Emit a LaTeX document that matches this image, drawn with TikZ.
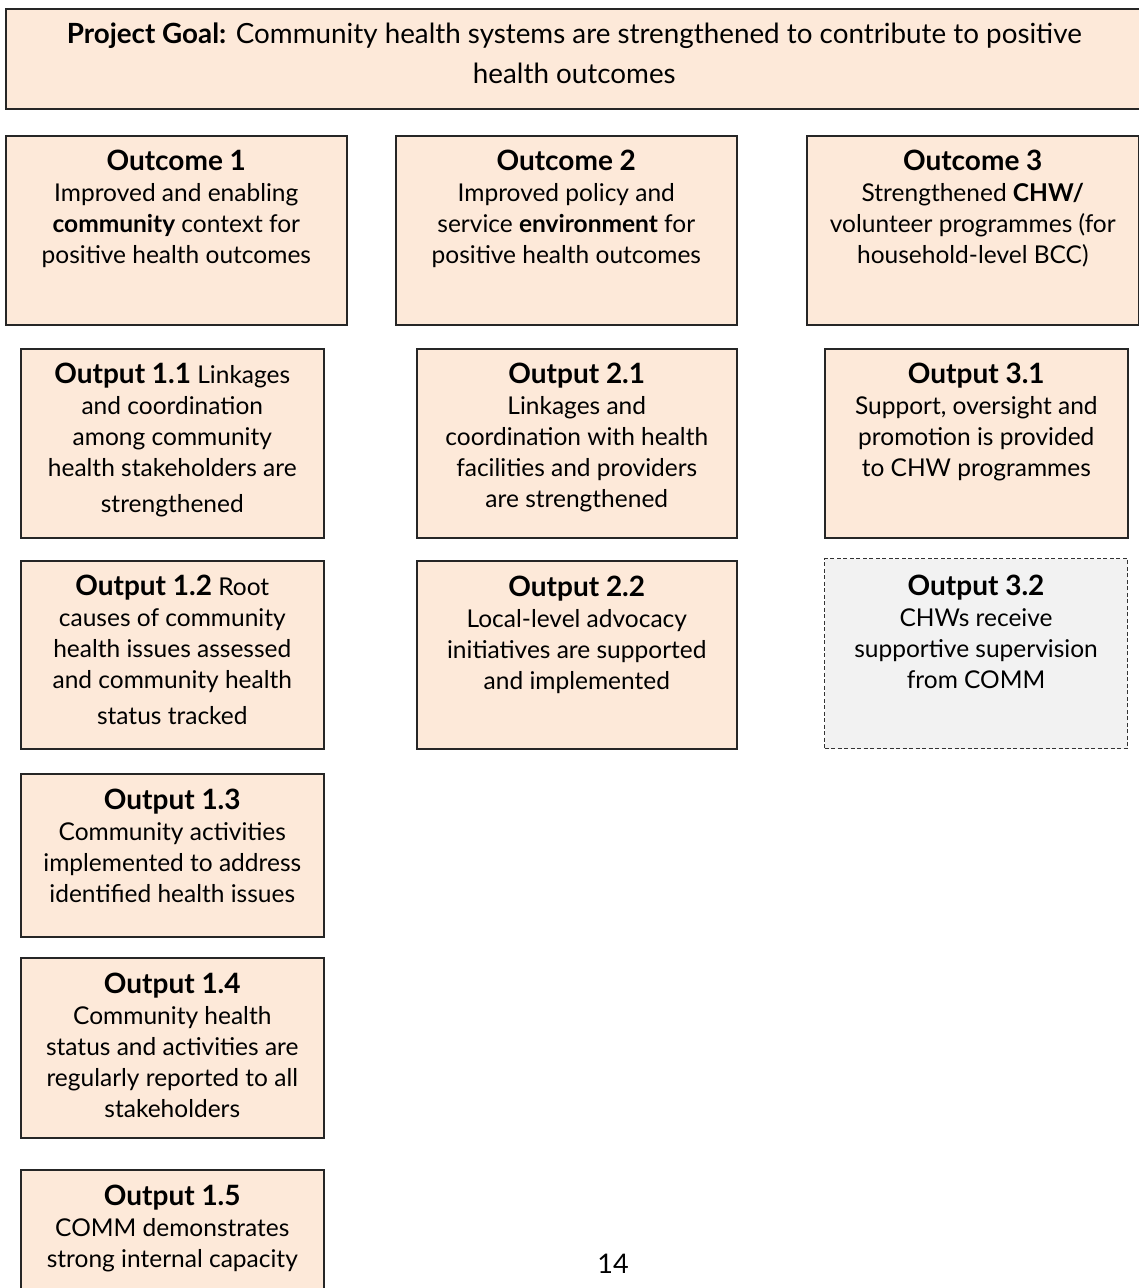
\documentclass[tikz,border=0pt]{standalone}
\usepackage{fontspec}
\setmainfont{Lato}
\usepackage{xcolor}
\usepackage{tikz}
\usetikzlibrary{positioning}
\definecolor{peach}{HTML}{FDE9D9}
\definecolor{paleg}{HTML}{F2F2F2}
\newcommand{\ttl}[1]{{\fontsize{28}{31}\selectfont\bfseries #1}}
\tikzset{
  card/.style={draw=black!85, fill=peach, line width=1.6pt, anchor=north west, inner sep=0pt},
  ghost/.style={card, draw=black!80, fill=paleg, line width=1.1pt, dash pattern=on 4pt off 2.5pt},
  txt/.style={align=center, inner sep=0pt, font=\fontsize{24.5}{31}\selectfont},
}

\begin{document}
\begin{tikzpicture}[x=1pt, y=-1pt]
    \clip (0,0) rectangle (1139,1288);
    \useasboundingbox (0,0) rectangle (1139,1288);
    % goal and outcomes
    \node[card, minimum width=1137pt, minimum height=100pt] (goal) at (5,8) {};
    \node[card, minimum width=341pt, minimum height=189pt] (oc1) at (5,135) {};
    \node[card, minimum width=341pt, minimum height=189pt] (oc2) at (395,135) {};
    \node[card, minimum width=332pt, minimum height=189pt] (oc3) at (806,135) {};
    % outputs
    \node[card, minimum width=303pt, minimum height=189pt] (op11) at (20,348) {};
    \node[card, minimum width=303pt, minimum height=188pt] (op12) at (20,560) {};
    \node[card, minimum width=303pt, minimum height=163pt] (op13) at (20,773) {};
    \node[card, minimum width=303pt, minimum height=180pt] (op14) at (20,957) {};
    \node[card, minimum width=303pt, minimum height=140pt] (op15) at (20,1169) {};
    \node[card, minimum width=320pt, minimum height=189pt] (op21) at (416,348) {};
    \node[card, minimum width=320pt, minimum height=188pt] (op22) at (416,560) {};
    \node[card, minimum width=303pt, minimum height=189pt] (op31) at (824,348) {};
    \node[ghost, minimum width=303pt, minimum height=190pt] (op32) at (824,558) {};
    % texts
    \node[txt, font=\fontsize{27.8}{40}\selectfont, below=15pt of goal.north] (goal-t) {\textbf{Project Goal:} Community health systems are strengthened to contribute to positive\\ health outcomes};
    \node[txt, below=15pt of oc1.north] (oc1-t) {\ttl{Outcome 1}\\ Improved and enabling\\ \textbf{community} context for\\ positive health outcomes};
    \node[txt, below=15pt of oc2.north] (oc2-t) {\ttl{Outcome 2}\\ Improved policy and\\ service \textbf{environment} for\\ positive health outcomes};
    \node[txt, below=15pt of oc3.north] (oc3-t) {\ttl{Outcome 3}\\ Strengthened \textbf{CHW/}\\ volunteer programmes (for\\ household-level BCC)};
    \node[txt, below=15pt of op11.north] (op11-t) {\ttl{Output 1.1} Linkages\\ and coordination\\ among community\\ health stakeholders are\\[5pt] strengthened};
    \node[txt, below=15pt of op12.north] (op12-t) {\ttl{Output 1.2} Root\\ causes of community\\ health issues assessed\\ and community health\\[5pt] status tracked};
    \node[txt, below=16pt of op13.north] (op13-t) {\ttl{Output 1.3}\\ Community activities\\ implemented to address\\ identified health issues};
    \node[txt, below=16pt of op14.north] (op14-t) {\ttl{Output 1.4}\\ Community health\\ status and activities are\\ regularly reported to all\\ stakeholders};
    \node[txt, below=16pt of op15.north] (op15-t) {\ttl{Output 1.5}\\ COMM demonstrates\\ strong internal capacity};
    \node[txt, below=15pt of op21.north] (op21-t) {\ttl{Output 2.1}\\ Linkages and\\ coordination with health\\ facilities and providers\\ are strengthened};
    \node[txt, below=16pt of op22.north] (op22-t) {\ttl{Output 2.2}\\ Local-level advocacy\\ initiatives are supported\\ and implemented};
    \node[txt, below=15pt of op31.north] (op31-t) {\ttl{Output 3.1}\\ Support, oversight and\\ promotion is provided\\ to CHW programmes};
    \node[txt, below=17pt of op32.north] (op32-t) {\ttl{Output 3.2}\\ CHWs receive\\ supportive supervision\\ from COMM};
    % page number
    \node[txt, font=\fontsize{27}{31}\selectfont, anchor=base] (page) at (613,1273) {14};
  \end{tikzpicture}
\end{document}
